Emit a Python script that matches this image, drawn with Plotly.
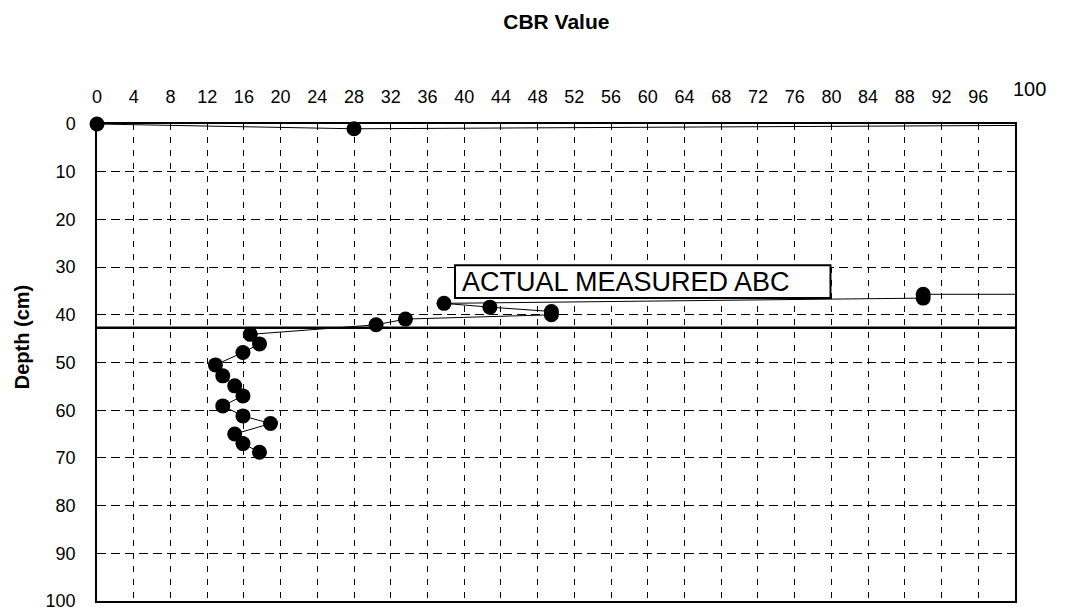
import plotly.graph_objects as go

# CBR readings against depth, in measurement order (the 110 readings are beyond
# the 100 axis limit, so only their connecting lines show)
cbr = [0, 28, 110, 110, 90, 90, 37.8, 42.8, 49.5, 49.5, 33.6, 30.4,
       16.7, 17.7, 15.9, 12.9, 13.7, 15.0, 15.9, 13.7, 15.9, 18.9, 15.0, 15.9, 17.7]
depth = [0, 1.0, 0.2, 35.7, 35.7, 36.5, 37.6, 38.4, 39.3, 40.0, 40.9, 42.1,
         44.1, 46.1, 47.9, 50.5, 52.8, 54.9, 57.0, 59.1, 61.2, 62.8, 65.0, 67.0, 68.8]

layer_depth = 42.7
x_ticks = list(range(0, 100, 4))
y_ticks = list(range(0, 101, 10))
label_text = "ACTUAL MEASURED ABC"
label_box = (39, 79.9, 29.6, 36.5)

FONT = "Liberation Sans, Arial, sans-serif"

fig = go.Figure()
fig.add_trace(go.Scatter(
    x=cbr, y=depth, mode="lines",
    line=dict(color="black", width=1),
    cliponaxis=True, showlegend=False,
))
on_scale = [(c, d) for c, d in zip(cbr, depth) if c <= 100]
fig.add_trace(go.Scatter(
    x=[p[0] for p in on_scale], y=[p[1] for p in on_scale], mode="markers",
    marker=dict(color="black", size=15),
    cliponaxis=False, showlegend=False,
))

fig.add_shape(type="line", xref="x", yref="y", x0=0, x1=100,
              y0=layer_depth, y1=layer_depth,
              line=dict(color="black", width=2.5))
fig.add_shape(type="rect", xref="x", yref="y",
              x0=label_box[0], x1=label_box[1], y0=label_box[2], y1=label_box[3],
              line=dict(color="black", width=2), fillcolor="white")
fig.add_annotation(x=label_box[0] + 0.5, y=(label_box[2] + label_box[3]) / 2,
                   xref="x", yref="y", xanchor="left", yanchor="middle",
                   text=label_text, showarrow=False,
                   font=dict(family=FONT, size=27, color="black"))

fig.add_annotation(x=1.0163, y=1.073, xref="paper", yref="paper",
                   xanchor="center", yanchor="middle",
                   text="100", showarrow=False,
                   font=dict(family=FONT, size=20, color="black"))
fig.add_annotation(x=-0.0817, y=0.553, xref="paper", yref="paper",
                   xanchor="center", yanchor="middle",
                   text="<b>Depth (cm)</b>", textangle=-90, showarrow=False,
                   font=dict(family=FONT, size=20, color="black"))

fig.update_xaxes(range=[0, 100], side="top", tickvals=x_ticks, automargin=False,
                 showgrid=True, gridcolor="black", gridwidth=1, griddash="6px,7px",
                 showline=True, linecolor="black", linewidth=1.5, mirror=True,
                 zeroline=False, ticks="", ticklabelstandoff=12,
                 tickfont=dict(family=FONT, size=18, color="black"))
fig.update_yaxes(range=[100, 0], tickvals=y_ticks, automargin=False,
                 ticklabeloverflow="allow",
                 showgrid=True, gridcolor="black", gridwidth=1, griddash="9px,5px",
                 showline=True, linecolor="black", linewidth=1.5, mirror=True,
                 zeroline=False, ticks="", ticklabelstandoff=16,
                 tickfont=dict(family=FONT, size=18, color="black"))

fig.update_layout(
    width=1074, height=611,
    margin=dict(l=97, r=59, t=124, b=10, autoexpand=False),
    paper_bgcolor="white", plot_bgcolor="white",
    title=dict(text="<b>CBR Value</b>", x=0.518, xanchor="center",
               y=0.964, yanchor="middle",
               font=dict(family=FONT, size=21, color="black")),
)

fig.write_html("out.html", config={"displayModeBar": False},
               post_script="document.body.style.margin='0';")
